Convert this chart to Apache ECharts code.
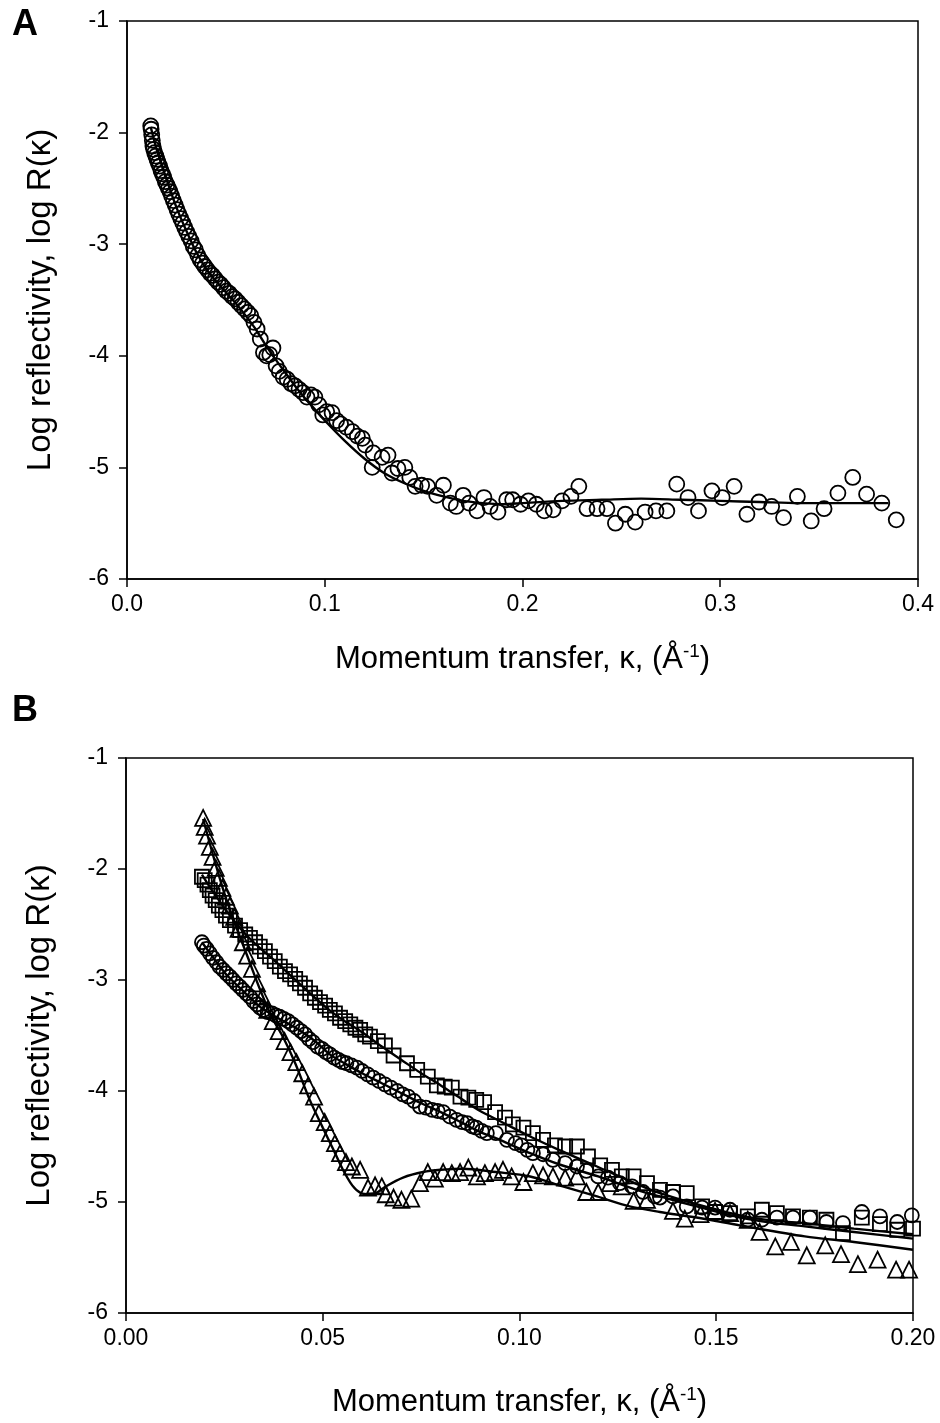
<!DOCTYPE html>
<html lang="en">
<head>
    <meta charset="UTF-8">
    <title>index</title>
    <script src="https://cdn.jsdelivr.net/npm/echarts@6/dist/echarts.min.js"></script>
    <style>
        html, body { margin: 0; padding: 0; background: #fff; }
        #chart { width: 940px; height: 1423px; }
    </style>
</head>
<body>
<div id="chart"></div>
<script>
    // ---- panel A : one sample (circles) + fit ----
    var aKappa = [0.0120,0.0122,0.0125,0.0128,0.0131,0.0135,0.0140,0.0146,0.0152,0.0158,0.0165,0.0172,0.0179,0.0186,0.0194,0.0202,0.0210,0.0218,0.0226,0.0235,
        0.0244,0.0253,0.0262,0.0272,0.0282,0.0292,0.0302,0.0313,0.0324,0.0335,0.0346,0.0358,0.0370,0.0382,0.0394,0.0407,0.0420,0.0433,0.0446,0.0460,
        0.0474,0.0488,0.0502,0.0517,0.0532,0.0547,0.0562,0.0578,0.0594,0.0610,0.0626,0.0642,0.0658,0.0674,0.0690,0.0706,0.0722,0.0738,0.0754,0.0770,
        0.0790,0.0810,0.0830,0.0850,0.0870,0.0890,0.0910,0.0930,0.0950,0.0970,0.0990,0.1010,0.1037,0.1060,0.1080,0.1110,0.1140,0.1165,0.1190,0.1205,
        0.1240,0.1245,0.1290,0.1320,0.1340,0.1370,0.1405,0.1430,0.1457,0.1490,0.1520,0.1566,0.1600,0.1635,0.1665,0.1700,0.1730,0.1770,0.1805,0.1836,
        0.1876,0.1920,0.1950,0.1990,0.2030,0.2070,0.2110,0.2155,0.2200,0.2245,0.2285,0.2326,0.2377,0.2427,0.2470,0.2520,0.2570,0.2620,0.2675,0.2730,
        0.2780,0.2837,0.2890,0.2958,0.3010,0.3070,0.3135,0.3196,0.3260,0.3320,0.3390,0.3460,0.3525,0.3595,0.3670,0.3740,0.3817,0.3890];
    var aLogR = [-1.94,-1.97,-2.02,-2.07,-2.12,-2.15,-2.18,-2.21,-2.24,-2.27,-2.30,-2.34,-2.37,-2.40,-2.44,-2.47,-2.50,-2.53,-2.57,-2.61,
        -2.65,-2.69,-2.73,-2.77,-2.81,-2.85,-2.89,-2.93,-2.97,-3.02,-3.05,-3.10,-3.14,-3.17,-3.20,-3.23,-3.26,-3.28,-3.31,-3.34,
        -3.36,-3.39,-3.42,-3.44,-3.47,-3.49,-3.52,-3.55,-3.58,-3.61,-3.64,-3.70,-3.76,-3.85,-3.97,-4.00,-3.99,-3.93,-4.09,-4.14,
        -4.19,-4.21,-4.25,-4.27,-4.30,-4.33,-4.37,-4.35,-4.37,-4.44,-4.53,-4.50,-4.51,-4.58,-4.61,-4.64,-4.68,-4.72,-4.74,-4.80,
        -5.00,-4.87,-4.91,-4.89,-5.05,-5.01,-5.00,-5.09,-5.17,-5.16,-5.17,-5.25,-5.16,-5.32,-5.35,-5.25,-5.32,-5.39,-5.27,-5.35,
        -5.40,-5.29,-5.29,-5.33,-5.30,-5.33,-5.39,-5.38,-5.30,-5.26,-5.17,-5.37,-5.37,-5.37,-5.50,-5.42,-5.49,-5.40,-5.39,-5.39,
        -5.15,-5.27,-5.39,-5.21,-5.27,-5.17,-5.42,-5.31,-5.35,-5.45,-5.26,-5.48,-5.37,-5.23,-5.09,-5.24,-5.32,-5.47];
    var aFitKappa = [0.0120,0.0150,0.0200,0.0250,0.0300,0.0350,0.0400,0.0450,0.0500,0.0550,0.0600,0.0650,0.0700,0.0750,0.0800,0.0850,0.0900,0.0950,0.1000,0.1100,
        0.1200,0.1300,0.1400,0.1500,0.1600,0.1700,0.1800,0.1900,0.2000,0.2200,0.2400,0.2600,0.2800,0.3000,0.3200,0.3400,0.3600,0.3850];
    var aFitLogR = [-1.95,-2.15,-2.42,-2.67,-2.88,-3.07,-3.22,-3.33,-3.43,-3.53,-3.64,-3.76,-3.90,-4.03,-4.15,-4.27,-4.38,-4.48,-4.58,-4.76,
        -4.92,-5.05,-5.14,-5.21,-5.26,-5.30,-5.32,-5.33,-5.32,-5.30,-5.29,-5.28,-5.29,-5.30,-5.31,-5.32,-5.32,-5.32];

    // ---- panel B : three samples + fits ----
    var bCircKappa = [0.0193,0.0198,0.0205,0.0213,0.0221,0.0230,0.0238,0.0247,0.0255,0.0264,0.0272,0.0280,0.0289,0.0297,0.0306,0.0315,0.0324,0.0333,0.0341,0.0350,
        0.0360,0.0371,0.0381,0.0390,0.0401,0.0412,0.0423,0.0434,0.0445,0.0455,0.0465,0.0475,0.0487,0.0498,0.0508,0.0518,0.0529,0.0540,0.0550,0.0560,
        0.0573,0.0587,0.0600,0.0614,0.0628,0.0643,0.0658,0.0673,0.0689,0.0703,0.0717,0.0732,0.0747,0.0762,0.0778,0.0792,0.0806,0.0823,0.0840,0.0854,
        0.0867,0.0880,0.0890,0.0904,0.0917,0.0940,0.0968,0.0990,0.1005,0.1020,0.1034,0.1060,0.1085,0.1116,0.1146,0.1170,0.1200,0.1225,0.1255,0.1286,
        0.1314,0.1344,0.1357,0.1390,0.1425,0.1464,0.1497,0.1535,0.1580,0.1616,0.1654,0.1695,0.1738,0.1780,0.1822,0.1870,0.1916,0.1960,0.1997];
    var bCircLogR = [-2.66,-2.69,-2.72,-2.76,-2.80,-2.84,-2.88,-2.91,-2.94,-2.97,-3.00,-3.03,-3.06,-3.09,-3.12,-3.15,-3.19,-3.22,-3.25,-3.27,
        -3.29,-3.30,-3.32,-3.33,-3.35,-3.37,-3.40,-3.43,-3.46,-3.49,-3.53,-3.56,-3.60,-3.62,-3.65,-3.67,-3.70,-3.72,-3.74,-3.75,
        -3.77,-3.79,-3.82,-3.85,-3.88,-3.91,-3.94,-3.97,-4.00,-4.03,-4.05,-4.09,-4.14,-4.15,-4.17,-4.18,-4.19,-4.23,-4.26,-4.28,
        -4.29,-4.32,-4.33,-4.36,-4.38,-4.38,-4.44,-4.47,-4.49,-4.53,-4.56,-4.57,-4.62,-4.65,-4.68,-4.72,-4.77,-4.78,-4.83,-4.86,
        -4.91,-4.95,-4.96,-4.95,-5.04,-5.05,-5.05,-5.07,-5.16,-5.16,-5.14,-5.14,-5.14,-5.18,-5.19,-5.09,-5.13,-5.18,-5.12];

    var bSqKappa = [0.0193,0.0200,0.0207,0.0213,0.0220,0.0228,0.0236,0.0245,0.0254,0.0264,0.0277,0.0290,0.0303,0.0315,0.0328,0.0340,0.0353,0.0366,0.0378,0.0391,
        0.0404,0.0417,0.0430,0.0442,0.0455,0.0468,0.0480,0.0493,0.0506,0.0518,0.0531,0.0544,0.0557,0.0570,0.0583,0.0595,0.0608,0.0620,0.0640,0.0658,
        0.0680,0.0714,0.0740,0.0767,0.0790,0.0810,0.0828,0.0850,0.0870,0.0890,0.0910,0.0938,0.0963,0.0983,0.1010,0.1034,0.1060,0.1090,0.1116,0.1146,
        0.1174,0.1205,0.1235,0.1260,0.1290,0.1324,0.1357,0.1390,0.1425,0.1464,0.1497,0.1535,0.1580,0.1616,0.1654,0.1695,0.1738,0.1780,0.1822,0.1870,
        0.1916,0.1960,0.2000];
    var bSqLogR = [-2.07,-2.10,-2.14,-2.19,-2.24,-2.28,-2.33,-2.37,-2.42,-2.46,-2.51,-2.55,-2.59,-2.62,-2.66,-2.70,-2.74,-2.79,-2.83,-2.88,
        -2.92,-2.95,-2.99,-3.03,-3.07,-3.12,-3.16,-3.20,-3.23,-3.27,-3.30,-3.34,-3.37,-3.40,-3.43,-3.45,-3.49,-3.51,-3.55,-3.59,
        -3.68,-3.75,-3.81,-3.87,-3.95,-3.96,-3.97,-4.05,-4.06,-4.08,-4.10,-4.19,-4.24,-4.30,-4.33,-4.38,-4.44,-4.49,-4.50,-4.50,
        -4.59,-4.67,-4.71,-4.77,-4.77,-4.83,-4.89,-4.91,-4.92,-5.04,-5.09,-5.10,-5.13,-5.07,-5.10,-5.13,-5.14,-5.16,-5.28,-5.14,
        -5.20,-5.25,-5.24];

    var bTriKappa = [0.0196,0.0200,0.0206,0.0213,0.0220,0.0228,0.0236,0.0245,0.0254,0.0264,0.0275,0.0286,0.0297,0.0308,0.0320,0.0333,0.0346,0.0359,0.0373,0.0388,
        0.0403,0.0418,0.0433,0.0448,0.0463,0.0478,0.0490,0.0505,0.0518,0.0531,0.0544,0.0559,0.0574,0.0595,0.0615,0.0633,0.0650,0.0660,0.0680,0.0700,
        0.0725,0.0747,0.0767,0.0785,0.0806,0.0828,0.0849,0.0870,0.0892,0.0912,0.0938,0.0958,0.0980,0.1010,0.1034,0.1060,0.1085,0.1116,0.1146,0.1170,
        0.1200,0.1230,0.1260,0.1290,0.1324,0.1390,0.1420,0.1460,0.1497,0.1535,0.1580,0.1610,0.1650,0.1690,0.1730,0.1777,0.1817,0.1860,0.1910,0.1957,
        0.1990];
    var bTriLogR = [-1.54,-1.62,-1.70,-1.80,-1.89,-1.99,-2.08,-2.17,-2.25,-2.33,-2.43,-2.54,-2.66,-2.78,-2.90,-3.03,-3.15,-3.27,-3.37,-3.46,
        -3.55,-3.65,-3.74,-3.84,-3.95,-4.05,-4.20,-4.28,-4.38,-4.47,-4.56,-4.64,-4.68,-4.71,-4.87,-4.85,-4.86,-4.93,-4.96,-4.98,
        -4.97,-4.83,-4.73,-4.79,-4.73,-4.74,-4.73,-4.69,-4.77,-4.74,-4.73,-4.71,-4.77,-4.82,-4.74,-4.76,-4.77,-4.78,-4.77,-4.91,
        -4.91,-4.83,-4.86,-4.99,-4.98,-5.08,-5.15,-5.11,-5.08,-5.10,-5.16,-5.27,-5.40,-5.36,-5.48,-5.39,-5.47,-5.56,-5.52,-5.61,
        -5.61];

    var bFitSqKappa = [0.0193,0.022,0.025,0.028,0.031,0.034,0.037,0.040,0.044,0.048,0.052,0.056,0.060,0.065,0.070,0.075,0.080,0.0856,0.090,0.095,0.1027,0.110,0.1197,0.1306,0.1357,0.145,0.156,0.165,0.1725,0.185,0.200];
    var bFitSqLogR = [-2.05,-2.20,-2.35,-2.49,-2.61,-2.71,-2.80,-2.90,-3.03,-3.16,-3.28,-3.38,-3.47,-3.60,-3.72,-3.84,-3.95,-4.08,-4.18,-4.27,-4.41,-4.53,-4.68,-4.85,-4.92,-5.02,-5.12,-5.17,-5.19,-5.24,-5.29];
    var bFitCircKappa = [0.0193,0.022,0.025,0.028,0.031,0.034,0.037,0.040,0.044,0.048,0.0518,0.056,0.060,0.065,0.070,0.075,0.080,0.0856,0.090,0.095,0.1027,0.110,0.120,0.1306,0.1357,0.145,0.156,0.165,0.1725,0.185,0.200];
    var bFitCircLogR = [-2.66,-2.79,-2.93,-3.04,-3.14,-3.24,-3.31,-3.37,-3.45,-3.55,-3.67,-3.76,-3.84,-3.93,-4.02,-4.11,-4.19,-4.29,-4.37,-4.44,-4.56,-4.66,-4.77,-4.90,-4.95,-5.04,-5.14,-5.19,-5.22,-5.27,-5.33];
    var bFitTriKappa = [0.0196,0.022,0.025,0.028,0.031,0.034,0.037,0.040,0.043,0.0467,0.050,0.0526,0.055,0.0575,0.0597,0.062,0.064,0.066,0.0704,0.0755,0.080,0.0856,0.094,0.1027,0.111,0.1197,0.128,0.1357,0.145,0.156,0.1725,0.185,0.200];
    var bFitTriLogR = [-1.55,-1.86,-2.22,-2.52,-2.80,-3.08,-3.33,-3.52,-3.75,-4.08,-4.33,-4.52,-4.70,-4.85,-4.92,-4.93,-4.91,-4.86,-4.78,-4.73,-4.71,-4.70,-4.73,-4.77,-4.86,-4.95,-5.04,-5.09,-5.14,-5.21,-5.31,-5.36,-5.43];

    var yTicks = [-6, -5, -4, -3, -2, -1];

    function zip(xs, ys) {
        return xs.map(function (x, i) { return [x, ys[i]]; });
    }

    var FONT = 'Liberation Sans, Arial, sans-serif';
    var hollow = { color: 'rgba(0,0,0,0)', borderColor: '#000', borderWidth: 1.8, opacity: 1 };
    var fitLine = { color: '#000', width: 2.4 };

    function xAxisFor(grid, max, step, digits) {
        return {
            type: 'value', gridIndex: grid, min: 0, max: max, interval: step,
            nameLocation: 'middle', nameGap: grid === 0 ? 63 : 72,
            name: '{t|Momentum transfer, κ, (Å}{s|-1}{t|)}',
            nameTextStyle: {
                rich: {
                    t: { fontFamily: FONT, fontSize: 31, color: '#000' },
                    s: { fontFamily: FONT, fontSize: 19, color: '#000', verticalAlign: 'top', padding: [0, 0, 15, 0] }
                }
            },
            axisLine: { show: true, lineStyle: { color: '#000', width: 1.5 } },
            axisTick: { show: true, length: 8, lineStyle: { color: '#000', width: 1.5 } },
            axisLabel: { color: '#000', fontFamily: FONT, fontSize: 23, margin: 14,
                formatter: function (v) { return v.toFixed(digits); } },
            splitLine: { show: false }
        };
    }
    function yAxisFor(grid) {
        return {
            type: 'value', gridIndex: grid, min: yTicks[0], max: yTicks[yTicks.length - 1], interval: 1,
            name: 'Log reflectivity, log R(κ)', nameLocation: 'middle', nameGap: 70,
            nameTextStyle: { fontFamily: FONT, fontSize: 33, color: '#000' },
            axisLine: { show: true, lineStyle: { color: '#000', width: 1.5 } },
            axisTick: { show: true, length: 8, lineStyle: { color: '#000', width: 1.5 } },
            axisLabel: { color: '#000', fontFamily: FONT, fontSize: 23, margin: 18 },
            splitLine: { show: false }
        };
    }

    var chart = echarts.init(document.getElementById('chart'));
    chart.setOption({
        backgroundColor: '#fff',
        animation: false,
        graphic: [
            { type: 'text', left: 12, top: 7, style: { text: 'A', fontFamily: FONT, fontWeight: 'bold', fontSize: 36, fill: '#000' } },
            { type: 'text', left: 12, top: 693, style: { text: 'B', fontFamily: FONT, fontWeight: 'bold', fontSize: 36, fill: '#000' } }
        ],
        grid: [
            { left: 127, top: 21, width: 791, height: 558, show: true, borderColor: '#000', borderWidth: 1.5 },
            { left: 126, top: 758, width: 787, height: 555, show: true, borderColor: '#000', borderWidth: 1.5 }
        ],
        xAxis: [xAxisFor(0, 0.4, 0.1, 1), xAxisFor(1, 0.2, 0.05, 2)],
        yAxis: [yAxisFor(0), yAxisFor(1)],
        series: [
            { type: 'scatter', xAxisIndex: 0, yAxisIndex: 0, symbol: 'circle', symbolSize: 15,
              itemStyle: hollow, data: zip(aKappa, aLogR) },
            { type: 'line', xAxisIndex: 0, yAxisIndex: 0, showSymbol: false, smooth: 0.3,
              lineStyle: fitLine, data: zip(aFitKappa, aFitLogR), z: 5 },

            { type: 'scatter', xAxisIndex: 1, yAxisIndex: 1, symbol: 'circle', symbolSize: 14,
              itemStyle: hollow, data: zip(bCircKappa, bCircLogR) },
            { type: 'scatter', xAxisIndex: 1, yAxisIndex: 1, symbol: 'rect', symbolSize: 14,
              itemStyle: hollow, data: zip(bSqKappa, bSqLogR) },
            { type: 'scatter', xAxisIndex: 1, yAxisIndex: 1, symbol: 'triangle', symbolSize: 16,
              itemStyle: hollow, data: zip(bTriKappa, bTriLogR) },
            { type: 'line', xAxisIndex: 1, yAxisIndex: 1, showSymbol: false, smooth: 0.3,
              lineStyle: fitLine, data: zip(bFitSqKappa, bFitSqLogR), z: 5 },
            { type: 'line', xAxisIndex: 1, yAxisIndex: 1, showSymbol: false, smooth: 0.3,
              lineStyle: fitLine, data: zip(bFitCircKappa, bFitCircLogR), z: 5 },
            { type: 'line', xAxisIndex: 1, yAxisIndex: 1, showSymbol: false, smooth: 0.3,
              lineStyle: fitLine, data: zip(bFitTriKappa, bFitTriLogR), z: 5 }
        ]
    });
</script>
</body>
</html>
